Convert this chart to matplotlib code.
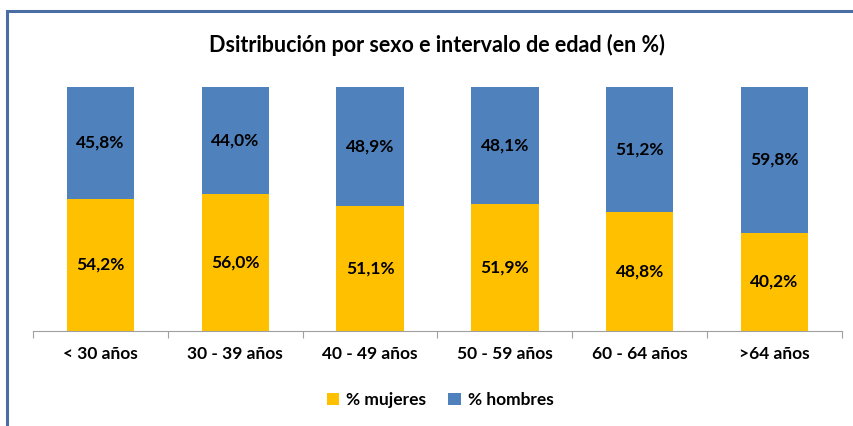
import matplotlib
matplotlib.use("Agg")
import matplotlib.pyplot as plt
from matplotlib.patches import Rectangle
import numpy as np

categories = ["< 30 años", "30 - 39 años", "40 - 49 años", "50 - 59 años", "60 - 64 años", ">64 años"]
mujeres = [54.2, 56.0, 51.1, 51.9, 48.8, 40.2]
hombres = [45.8, 44.0, 48.9, 48.1, 51.2, 59.8]
title = "Dsitribución por sexo e intervalo de edad (en %)"

plt.rcParams['font.family'] = ['Lato', 'DejaVu Sans']
W, H = 854, 426
fig = plt.figure(figsize=(W/100, H/100), dpi=100)
fig.patches.append(Rectangle((7/W, -0.1), 1.2, (H-11)/H + 0.1, transform=fig.transFigure,
                             fill=False, edgecolor='#4a6ea3', linewidth=2.2))
ax = fig.add_axes([33/W, (H-331)/H, (842-33)/W, (331-87)/H])
x = np.arange(len(categories))
ax.bar(x, mujeres, width=0.5, color='#FFC000', label='% mujeres')
ax.bar(x, hombres, width=0.5, bottom=mujeres, color='#4F81BD', label='% hombres')
for i in range(len(categories)):
    ax.text(x[i], mujeres[i]/2, f"{mujeres[i]:.1f}%".replace('.', ','), ha='center', va='center',
            fontsize=12.5, fontweight='bold', color='black')
    ax.text(x[i], mujeres[i] + hombres[i]/2, f"{hombres[i]:.1f}%".replace('.', ','), ha='center', va='center',
            fontsize=12.5, fontweight='bold', color='black')
ax.set_xlim(-0.5, len(categories)-0.5)
ax.set_ylim(0, 100)
ax.set_yticks([])
for s in ['top', 'right', 'left']:
    ax.spines[s].set_visible(False)
ax.spines['bottom'].set_color('#a0a0a0')
ax.set_xticks(np.arange(len(categories)+1) - 0.5)
ax.set_xticklabels([])
ax.set_xticks(x, minor=True)
ax.set_xticklabels(categories, minor=True, fontsize=12.5, fontweight='bold')
ax.tick_params(axis='x', which='major', length=5, color='#a0a0a0', direction='out')
ax.tick_params(axis='x', which='minor', length=0, pad=11)
fig.text(437/W, 1-45/H, title, ha='center', va='center', fontsize=15.5, fontweight='bold')
leg = fig.legend(loc='center', bbox_to_anchor=(440/W, 1-400/H), ncol=2, frameon=False,
                 prop={'size': 12.5, 'weight': 'bold'}, handlelength=0.7, handleheight=0.7,
                 handletextpad=0.4, columnspacing=1.3)
fig.savefig("out.png", dpi=100)
